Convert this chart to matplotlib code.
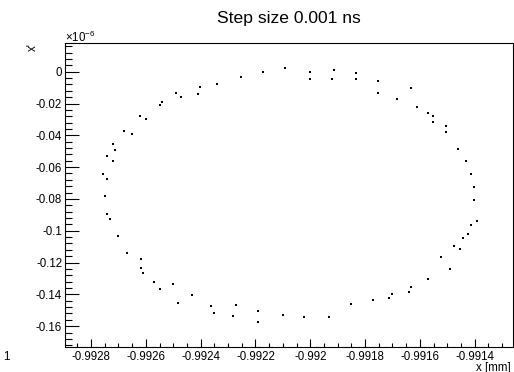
import matplotlib
matplotlib.use("Agg")
import matplotlib.pyplot as plt
from matplotlib.ticker import MultipleLocator, FixedLocator, FixedFormatter

plt.rcParams['font.family'] = ['Liberation Sans', 'DejaVu Sans']
plt.rcParams['mathtext.default'] = 'regular'

# Data: x in mm, x' in units of 1e-6
x_mm = [
    -0.99262, -0.99260, -0.992549, -0.99254, -0.99249, -0.99247, -0.99241, -0.992402,
    -0.992339, -0.992252, -0.992171, -0.992092, -0.9920005, -0.9920005, -0.991921, -0.991913,
    -0.991832, -0.991832, -0.991751, -0.991751, -0.991684, -0.991632, -0.991612, -0.991572,
    -0.991553, -0.991553, -0.991503, -0.991503, -0.991462, -0.991431, -0.991412, -0.991404,
    -0.991404, -0.991391, -0.991412, -0.991424, -0.991441, -0.991474, -0.991453,
    -0.991524, -0.991491, -0.99157, -0.991632, -0.991641, -0.9917, -0.991712, -0.991771,
    -0.991851, -0.99193, -0.992022, -0.9921, -0.99219, -0.99219, -0.992272, -0.992281,
    -0.992351, -0.992361, -0.992432, -0.992482, -0.9925, -0.992548, -0.99257, -0.992611,
    -0.992619, -0.992619, -0.99267,
    -0.992701, -0.992729, -0.992741, -0.99275, -0.992742, -0.992758, -0.99272, -0.992742,
    -0.992712, -0.99272, -0.99265, -0.992679,
]
xp = [
    -0.02767, -0.02956, -0.02113, -0.01906, -0.0134, -0.0161, -0.01403, -0.00943,
    -0.00792, -0.00333, -0.00019, 0.00214, -0.00019, -0.0044, -0.0044, 0.00088,
    -0.00082, -0.0044, -0.00566, -0.0134, -0.01698, -0.01044, -0.0222, -0.02579,
    -0.02767, -0.03176, -0.03434, -0.03792, -0.04862, -0.05616, -0.06434, -0.07233,
    -0.0805, -0.09371, -0.09623, -0.10189, -0.1044, -0.10931, -0.1117,
    -0.11654, -0.12428, -0.1305, -0.13541, -0.13836, -0.13981, -0.14252, -0.14358,
    -0.14591, -0.15447, -0.15409, -0.15302, -0.1505, -0.15761, -0.14692, -0.15365,
    -0.15195, -0.14755, -0.14044, -0.14547, -0.13333, -0.13685, -0.13226, -0.1266,
    -0.12365, -0.11761, -0.11402,
    -0.10352, -0.09277, -0.08918, -0.07799, -0.0673, -0.06434, -0.05616, -0.05302,
    -0.04943, -0.04547, -0.03937, -0.0373,
]

x_ticks = [-0.9928, -0.9926, -0.9924, -0.9922, -0.9920, -0.9918, -0.9916, -0.9914]
x_tick_labels = ["-0.9928", "-0.9926", "-0.9924", "-0.9922", "-0.992", "-0.9918", "-0.9916", "-0.9914"]
y_ticks = [0, -0.02, -0.04, -0.06, -0.08, -0.10, -0.12, -0.14, -0.16]
y_tick_labels = ["0", "-0.02", "-0.04", "-0.06", "-0.08", "-0.1", "-0.12", "-0.14", "-0.16"]

title = "Step size 0.001 ns"
x_label = "x [mm]"
y_label = "x'"

fig = plt.figure(figsize=(5.14, 3.72), dpi=100)
ax = fig.add_axes([65/514, 25/372, (512.5-65)/514, (347-42.7)/372])

ax.plot(x_mm, xp, linestyle='none', marker='s', markersize=1.7,
        markerfacecolor='black', markeredgecolor='black', markeredgewidth=0)

ax.set_xlim(-0.992895, -0.991262)
ax.set_ylim(-0.1731, 0.01824)

ax.xaxis.set_major_locator(FixedLocator(x_ticks))
ax.xaxis.set_major_formatter(FixedFormatter(x_tick_labels))
ax.yaxis.set_major_locator(FixedLocator(y_ticks))
ax.yaxis.set_major_formatter(FixedFormatter(y_tick_labels))
ax.xaxis.set_minor_locator(MultipleLocator(0.00005))
ax.yaxis.set_minor_locator(MultipleLocator(0.004))

ax.tick_params(axis='both', which='both', direction='in', colors='black',
               labelsize=8.3, top=False, right=False)
ax.tick_params(axis='x', which='major', length=6, width=0.8, pad=3)
ax.tick_params(axis='x', which='minor', length=3, width=0.8)
ax.tick_params(axis='y', which='major', length=10.3, width=0.8, pad=2)
ax.tick_params(axis='y', which='minor', length=5.2, width=0.8)
for s in ax.spines.values():
    s.set_linewidth(0.8)
    s.set_color('black')

fig.text(289/514, 1 - 18.3/372, title, ha='center', va='center', fontsize=12.6)
fig.text(511/514, 1 - 370.5/372, x_label, ha='right', va='baseline', fontsize=8.3)
fig.text(33/514, 1 - 47/372, y_label, ha='center', va='center', fontsize=8.3, rotation=90)
fig.text(65/514, 1 - 37.5/372, r'$\times10^{-6}$', ha='left', va='center', fontsize=8.3)
fig.text(3/514, 1 - 357/372, "1", ha='left', va='center', fontsize=8.3)

fig.savefig("out.png", dpi=100)
